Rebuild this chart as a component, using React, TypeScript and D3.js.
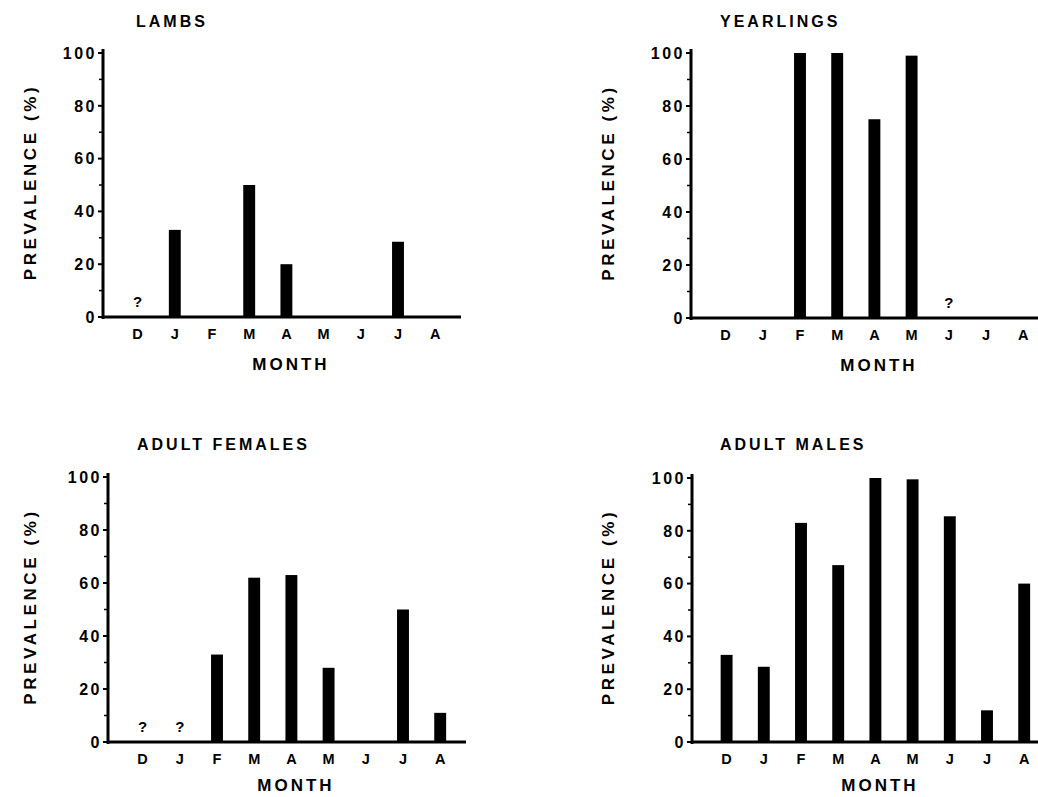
import React from "react";
import * as d3 from "d3";

const months = ["D", "J", "F", "M", "A", "M", "J", "J", "A"];
const yTicks = [0, 20, 40, 60, 80, 100];
const yMinor = [10, 30, 50, 70, 90];

const lambs = [0, 33, 0, 50, 20, 0, 0, 28.5, 0];
const yearlings = [0, 0, 100, 100, 75, 99, 0, 0, 0];
const adultFemales = [0, 0, 33, 62, 63, 28, 0, 50, 11];
const adultMales = [33, 28.5, 83, 67, 100, 99.5, 85.5, 12, 60];

// months with no sample, marked "?"
const lambsUnknown = [0];
const yearlingsUnknown = [6];
const femalesUnknown = [0, 1];
const malesUnknown: number[] = [];

const FONT = "'Liberation Sans', Arial, Helvetica, sans-serif";

type PanelProps = {
  title: string;
  values: number[];
  unknown: number[];
  ax: number; // x of y axis
  top: number; // y of 100
  bottom: number; // y of 0
  titleX: number;
  titleY: number;
  labelX: number;
  monthDy: number;
};

function Panel({ title, values, unknown, ax, top, bottom, titleX, titleY, labelX, monthDy }: PanelProps) {
  const x = d3
    .scaleBand<number>()
    .domain(d3.range(months.length))
    .range([ax + 16, ax + 16 + 9 * 37.2])
    .paddingInner(0.68)
    .paddingOuter(0.34);
  const y = d3.scaleLinear().domain([0, 100]).range([bottom, top]);
  const bw = x.bandwidth();

  return (
    <g>
      <text x={titleX} y={titleY} fontFamily={FONT} fontWeight="bold" fontSize={16} letterSpacing={3}>
        {title}
      </text>
      <text
        transform={`translate(${labelX},${(top + bottom) / 2 - 3}) rotate(-90)`}
        textAnchor="middle"
        fontFamily={FONT}
        fontWeight="bold"
        fontSize={17}
        letterSpacing={3.6}
      >
        PREVALENCE (%)
      </text>
      {values.map((v, i) =>
        v > 0 ? (
          <rect key={i} x={x(i)!} y={y(v)} width={bw} height={y(0) - y(v)} fill="#000" />
        ) : null
      )}
      {unknown.map((i) => (
        <text
          key={"q" + i}
          x={x(i)! + bw / 2}
          y={y(0) - 10}
          textAnchor="middle"
          fontFamily={FONT}
          fontWeight="bold"
          fontSize={15}
        >
          ?
        </text>
      ))}
      {/* axes */}
      <line x1={ax} x2={ax} y1={top - 4} y2={bottom + 2} stroke="#000" strokeWidth={3} />
      <line x1={ax - 1} x2={ax + 358} y1={bottom} y2={bottom} stroke="#000" strokeWidth={3} />
      {yTicks.map((t) => (
        <g key={t}>
          <line x1={ax - 5} x2={ax} y1={y(t)} y2={y(t)} stroke="#000" strokeWidth={2} />
          <text
            x={ax - 6}
            y={y(t)}
            dy="0.36em"
            textAnchor="end"
            fontFamily={FONT}
            fontWeight="bold"
            fontSize={16}
            letterSpacing={2.5}
          >
            {t}
          </text>
        </g>
      ))}
      {yMinor.map((t) => (
        <line key={t} x1={ax - 4} x2={ax} y1={y(t)} y2={y(t)} stroke="#000" strokeWidth={1.5} />
      ))}
      {months.map((m, i) => (
        <text
          key={i}
          x={x(i)! + bw / 2}
          y={bottom + 22}
          textAnchor="middle"
          fontFamily={FONT}
          fontWeight="bold"
          fontSize={14.5}
        >
          {m}
        </text>
      ))}
      <text
        x={ax + 188}
        y={bottom + monthDy}
        textAnchor="middle"
        fontFamily={FONT}
        fontWeight="bold"
        fontSize={17}
        letterSpacing={3}
      >
        MONTH
      </text>
    </g>
  );
}

export default function App() {
  return (
    <svg
      width={1038}
      height={797}
      style={{ position: "absolute", left: 0, top: 0, background: "#fff" }}
    >
      <rect width={1038} height={797} fill="#fff" />
      <Panel title="LAMBS" values={lambs} unknown={lambsUnknown} ax={103} top={53} bottom={317} titleX={136} titleY={27} labelX={36} monthDy={53} />
      <Panel title="YEARLINGS" values={yearlings} unknown={yearlingsUnknown} ax={691} top={53} bottom={318} titleX={720} titleY={27} labelX={614} monthDy={53} />
      <Panel title="ADULT FEMALES" values={adultFemales} unknown={femalesUnknown} ax={108} top={477} bottom={742} titleX={137} titleY={450} labelX={36} monthDy={49} />
      <Panel title="ADULT MALES" values={adultMales} unknown={malesUnknown} ax={692} top={478} bottom={742} titleX={720} titleY={450} labelX={614} monthDy={49} />
    </svg>
  );
}
